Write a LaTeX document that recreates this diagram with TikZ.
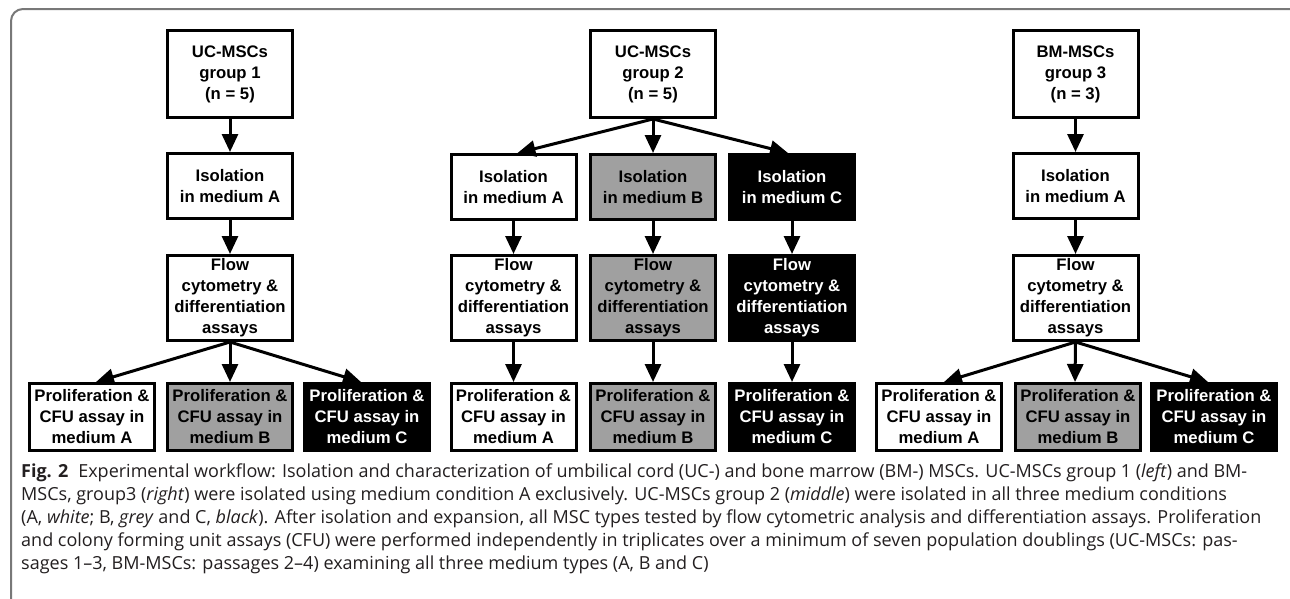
\documentclass[tikz,border=0pt]{standalone}
\usepackage{fontspec}
\setmainfont{Liberation Sans}
\newfontfamily\capfont[Ligatures=TeX]{Open Sans}
\usetikzlibrary{arrows.meta,calc}
\definecolor{boxgray}{RGB}{160,160,160}
\definecolor{framegray}{RGB}{120,120,120}
\definecolor{captext}{RGB}{35,31,32}
\begin{document}
\begin{tikzpicture}[x=1pt,y=-1pt,
  bx/.style={draw=black,line width=3pt,minimum width=125pt,align=center,
    font=\bfseries\fontsize{16.7}{21}\selectfont,inner sep=0pt},
  wb/.style={bx,fill=white},
  gb/.style={bx,fill=boxgray},
  kb/.style={bx,fill=black,text=white},
  toph/.style={minimum height=87pt},
  isoh/.style={minimum height=65pt},
  flowh/.style={minimum height=85pt},
  proh/.style={minimum height=67pt},
  arr/.style={line width=3pt,-{Triangle[length=18pt,width=16pt]}},
  captionline/.style={anchor=base west,inner sep=0pt,text=captext,
    font=\capfont\fontsize{18}{23}\selectfont}]
\useasboundingbox (0,0) rectangle (1290,598);
\fill[white] (0,0) rectangle (1290,598);
\draw[framegray,line width=2pt,rounded corners=12pt] (11,600) -- (11,9) -- (1292,9);

% ---------- group 1 ----------
\node[wb,toph] (t1) at (230,74) {UC-MSCs\\group 1\\(n = 5)};
\node[wb,isoh] (i1) at (230,186) {Isolation\\in medium A};
\node[wb,flowh] (f1) at (230,298) {Flow\\cytometry \&\\differentiation\\assays};
\node[wb,proh] (p1a) at (92,417) {Proliferation \&\\CFU assay in\\medium A};
\node[gb,proh] (p1b) at (230,417) {Proliferation \&\\CFU assay in\\medium B};
\node[kb,proh] (p1c) at (367,417) {Proliferation \&\\CFU assay in\\medium C};
\draw[arr] (t1) -- (i1);
\draw[arr] (i1) -- (f1);
\draw[arr] (f1.south) -- ($(p1a.north)+(4,0)$);
\draw[arr] (f1.south) -- (p1b.north);
\draw[arr] (f1.south) -- ($(p1c.north)+(-6,0)$);

% ---------- group 2 ----------
\node[wb,toph] (t2) at (653,74) {UC-MSCs\\group 2\\(n = 5)};
\node[wb,isoh] (i2a) at (513.5,187) {Isolation\\in medium A};
\node[gb,isoh] (i2b) at (653,187) {Isolation\\in medium B};
\node[kb,isoh] (i2c) at (792,187) {Isolation\\in medium C};
\node[wb,flowh] (f2a) at (513.5,298) {Flow\\cytometry \&\\differentiation\\assays};
\node[gb,flowh] (f2b) at (653,298) {Flow\\cytometry \&\\differentiation\\assays};
\node[kb,flowh] (f2c) at (792,298) {Flow\\cytometry \&\\differentiation\\assays};
\node[wb,proh] (p2a) at (513.5,417) {Proliferation \&\\CFU assay in\\medium A};
\node[gb,proh] (p2b) at (653,417) {Proliferation \&\\CFU assay in\\medium B};
\node[kb,proh] (p2c) at (792,417) {Proliferation \&\\CFU assay in\\medium C};
\draw[arr] (t2.south) -- ($(i2a.north)+(4,0)$);
\draw[arr] (t2.south) -- (i2b.north);
\draw[arr] (t2.south) -- ($(i2c.north)+(-4,0)$);
\draw[arr] (i2a) -- (f2a);
\draw[arr] (i2b) -- (f2b);
\draw[arr] (i2c) -- (f2c);
\draw[arr] (f2a) -- (p2a);
\draw[arr] (f2b) -- (p2b);
\draw[arr] (f2c) -- (p2c);

% ---------- group 3 ----------
\node[wb,toph] (t3) at (1075.5,74) {BM-MSCs\\group 3\\(n = 3)};
\node[wb,isoh] (i3) at (1075.5,186) {Isolation\\in medium A};
\node[wb,flowh] (f3) at (1075.5,298) {Flow\\cytometry \&\\differentiation\\assays};
\node[wb,proh] (p3a) at (939,417) {Proliferation \&\\CFU assay in\\medium A};
\node[gb,proh] (p3b) at (1078,417) {Proliferation \&\\CFU assay in\\medium B};
\node[kb,proh] (p3c) at (1214,417) {Proliferation \&\\CFU assay in\\medium C};
\draw[arr] (t3) -- (i3);
\draw[arr] (i3) -- (f3);
\draw[arr] (f3.south) -- ($(p3a.north)+(5,0)$);
\draw[arr] (f3.south) -- ($(p3b.north)+(-3,0)$);
\draw[arr] (f3.south) -- ($(p3c.north)+(-6,0)$);

% ---------- caption ----------
\node[captionline] (c1) at (21,477) {\textbf{Fig. 2}\hspace{0.55em}Experimental workflow: Isolation and characterization of umbilical cord (UC-) and bone marrow (BM-) MSCs. UC-MSCs group 1 (\textit{left}) and BM-};
\node[captionline] (c2) at (21,500) {MSCs, group3 (\textit{right}) were isolated using medium condition A exclusively. UC-MSCs group 2 (\textit{middle}) were isolated in all three medium conditions};
\node[captionline] (c3) at (21,523) {(A, \textit{white}; B, \textit{grey} and C, \textit{black}). After isolation and expansion, all MSC types tested by flow cytometric analysis and differentiation assays. Proliferation};
\node[captionline] (c4) at (21,546) {and colony forming unit assays (CFU) were performed independently in triplicates over a minimum of seven population doublings (UC-MSCs: pas-};
\node[captionline] (c5) at (21,569) {sages 1--3, BM-MSCs: passages 2--4) examining all three medium types (A, B and C)};
\end{tikzpicture}
\end{document}
